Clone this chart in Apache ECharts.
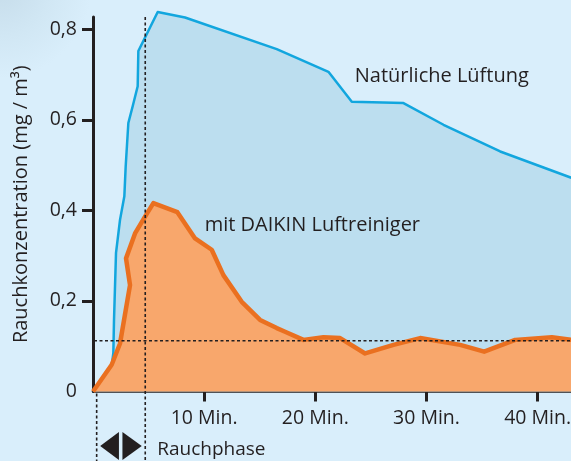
<!DOCTYPE html>
<html>
<head>
<meta charset="utf-8">
<script src="https://cdn.jsdelivr.net/npm/echarts@6/dist/echarts.min.js"></script>
<style>
html,body{margin:0;padding:0;}
#c{width:571px;height:461px;background:#d9eefb;}
</style>
</head>
<body>
<div id="c"></div>
<script>
// Data (minutes, mg/m³)
var naturalTime = [0, 1.7, 1.83, 1.89, 2.07, 2.43, 2.82, 2.94, 3.18, 3.57, 4.02, 4.08, 5.82, 8.28, 16.53, 21.18, 23.28, 27.93, 31.53, 36.63, 43.02];
var naturalVals = [0, 0.06, 0.085, 0.158, 0.306, 0.379, 0.431, 0.497, 0.593, 0.630, 0.674, 0.752, 0.838, 0.826, 0.756, 0.706, 0.640, 0.637, 0.589, 0.530, 0.472];
var daikinTime = [0, 1.68, 2.43, 3.33, 2.97, 3.78, 4.68, 5.43, 7.59, 9.18, 10.68, 11.73, 13.38, 15.03, 16.53, 17.28, 18.93, 20.73, 22.23, 24.48, 27.03, 29.43, 33.03, 35.19, 37.98, 41.28, 43.02];
var daikinVals = [0, 0.059, 0.106, 0.235, 0.294, 0.349, 0.386, 0.416, 0.396, 0.338, 0.313, 0.257, 0.198, 0.158, 0.140, 0.132, 0.114, 0.120, 0.118, 0.084, 0.103, 0.118, 0.103, 0.088, 0.114, 0.120, 0.114];
var xTicks = [10, 20, 30, 40];
var xTickLabels = ['10 Min.', '20 Min.', '30 Min.', '40 Min.'];
var yTicks = [0.2, 0.4, 0.6, 0.8];
var yLabelValues = [0, 0.2, 0.4, 0.6, 0.8];
var yLabels = ['0', '0,2', '0,4', '0,6', '0,8'];
var referenceLevel = 0.112;
var smokePhase = [0.33, 4.7];
var seriesNames = ['Natürliche Lüftung', 'mit DAIKIN Luftreiniger'];
var labelAnchors = [[23.55, 0.697], [10.05, 0.366]];

function pairs(t, v) { return t.map(function (x, i) { return [x, v[i]]; }); }

var FONT = '"Open Sans", "Noto Sans", sans-serif';
var FS = 20;
var FT = 19.5;
var TXT = '#231f20';
var chart = echarts.init(document.getElementById('c'), null, {renderer: 'canvas'});
var option = {
  backgroundColor: {
    type: 'radial', x: 0.0, y: -0.03, r: 0.2,
    colorStops: [{offset: 0, color: '#c6dcea'}, {offset: 0.55, color: '#d1e7f4'}, {offset: 1, color: '#d9eefb'}]
  },
  animation: false,
  grid: {left: 93, right: 0, top: 17, bottom: 69.5, containLabel: false, outerBoundsMode: 'none'},
  xAxis: {
    type: 'value', min: 0, max: 43, interval: 10,
    splitLine: {show: false},
    axisLine: {show: true, onZero: false, lineStyle: {color: TXT, width: 2.5}},
    axisTick: {show: true, customValues: xTicks, length: 10, lineStyle: {color: TXT, width: 3}},
    axisLabel: {
      customValues: xTicks, margin: 17, color: TXT, fontSize: FT, fontFamily: FONT,
      formatter: function (v) { var i = xTicks.indexOf(v); return i >= 0 ? xTickLabels[i] : ''; }
    }
  },
  yAxis: {
    type: 'value', min: 0, max: 0.827, interval: 0.2,
    name: 'Rauchkonzentration (mg / m³)', nameLocation: 'middle', nameRotate: 90, nameGap: 62,
    nameTextStyle: {color: TXT, fontSize: FS, fontFamily: FONT},
    splitLine: {show: false},
    axisLine: {show: true, lineStyle: {color: TXT, width: 3}},
    axisTick: {show: true, customValues: yTicks, length: 11, lineStyle: {color: TXT, width: 3}},
    axisLabel: {
      customValues: yLabelValues, margin: 16, color: TXT, fontSize: FT, fontFamily: FONT,
      formatter: function (v) {
        for (var i = 0; i < yLabelValues.length; i++) { if (Math.abs(yLabelValues[i] - v) < 1e-6) return yLabels[i]; }
        return '';
      }
    }
  },
  series: [
    {
      name: seriesNames[0], type: 'line', data: pairs(naturalTime, naturalVals),
      showSymbol: false, clip: false, z: 2,
      lineStyle: {color: '#12a6de', width: 2.5, join: 'round'},
      areaStyle: {color: '#bcdeef', opacity: 1}
    },
    {
      name: seriesNames[1], type: 'line', data: pairs(daikinTime, daikinVals),
      showSymbol: false, clip: false, z: 3,
      lineStyle: {color: '#ea7020', width: 4.5, join: 'round'},
      areaStyle: {color: '#f8a76c', opacity: 1}
    }
  ]
};
chart.setOption(option);

// annotations derived from axis scale
var p0 = chart.convertToPixel({gridIndex: 0}, [smokePhase[0], 0]);
var p1 = chart.convertToPixel({gridIndex: 0}, [smokePhase[1], 0.827]);
var pref = chart.convertToPixel({gridIndex: 0}, [0, referenceLevel]);
var pright = chart.convertToPixel({gridIndex: 0}, [43, referenceLevel]);
var la = chart.convertToPixel({gridIndex: 0}, labelAnchors[0]);
var lb = chart.convertToPixel({gridIndex: 0}, labelAnchors[1]);
var H = 461;
var dash = {stroke: TXT, lineWidth: 1.6, lineDash: [3, 2.5]};
var mid = (p0[0] + p1[0]) / 2;
var ty = 446;
chart.setOption({
  graphic: [
    {type: 'line', z: 10, shape: {x1: pref[0] + 1, y1: pref[1], x2: pright[0], y2: pright[1]}, style: dash},
    {type: 'line', z: 10, shape: {x1: p1[0], y1: p1[1], x2: p1[0], y2: H}, style: dash},
    {type: 'line', z: 10, shape: {x1: p0[0], y1: p0[1] + 2, x2: p0[0], y2: H}, style: dash},
    {type: 'polygon', z: 10, shape: {points: [[p0[0] + 3.5, ty], [mid - 2, ty - 14], [mid - 2, ty + 14]]}, style: {fill: TXT}},
    {type: 'polygon', z: 10, shape: {points: [[p1[0] - 3.5, ty], [mid + 1.5, ty - 14], [mid + 1.5, ty + 14]]}, style: {fill: TXT}},
    {type: 'text', z: 10, style: {x: p1[0] + 12, y: ty + 4, text: 'Rauchphase', fill: TXT, font: '19px ' + FONT, textVerticalAlign: 'middle'}},
    {type: 'text', z: 10, style: {x: la[0], y: la[1], text: seriesNames[0], fill: TXT, font: FS + 'px ' + FONT, textVerticalAlign: 'middle'}},
    {type: 'text', z: 10, style: {x: lb[0], y: lb[1], text: seriesNames[1], fill: TXT, font: FS + 'px ' + FONT, textVerticalAlign: 'middle'}}
  ]
});
</script>
</body>
</html>
